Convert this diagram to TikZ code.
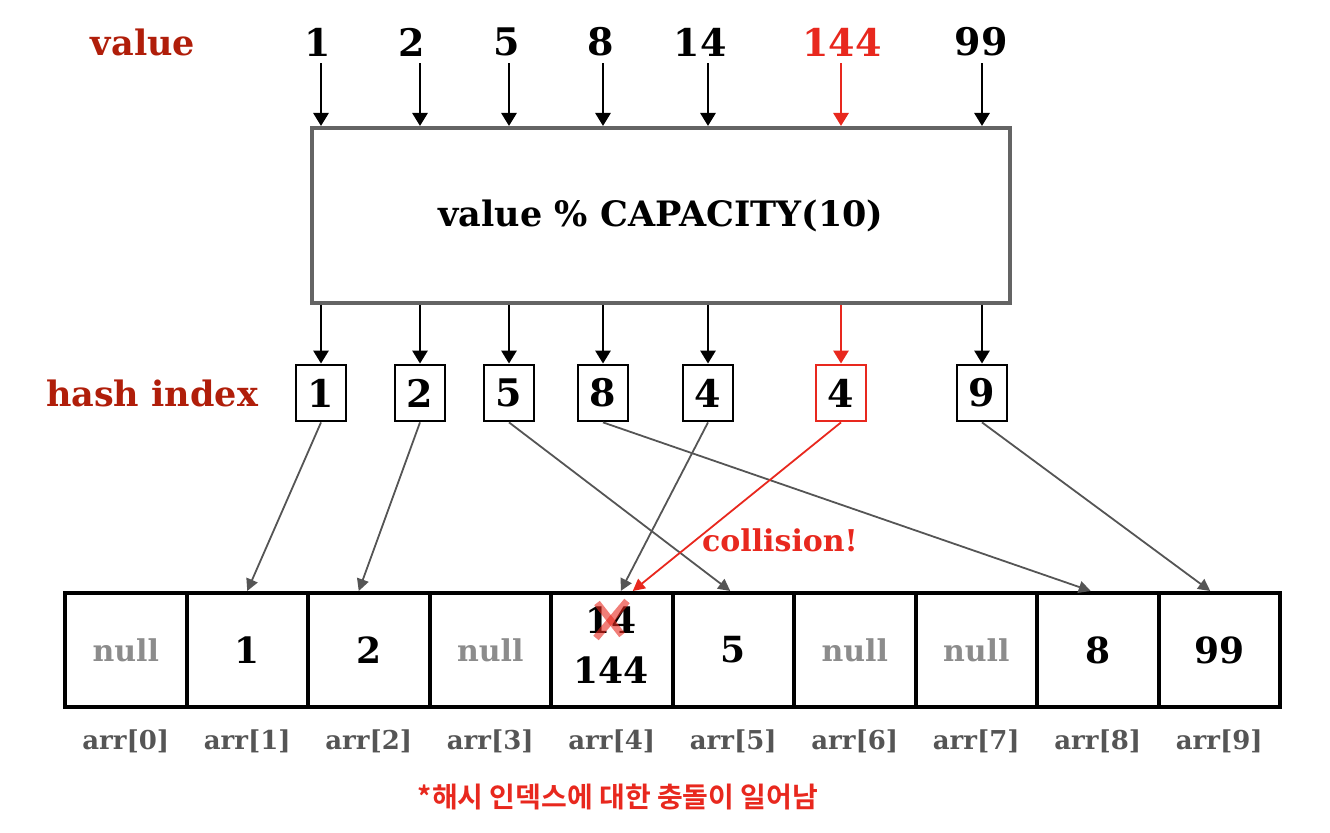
\documentclass[tikz,border=0pt]{standalone}
\usepackage{fontspec}
\setmainfont{DejaVu Serif}
\newfontfamily\krfont{Noto Sans CJK KR}[BoldFont=Noto Sans CJK KR Bold]
\usetikzlibrary{arrows.meta}
\definecolor{labelred}{RGB}{176,30,10}
\definecolor{hitred}{RGB}{232,40,30}
\definecolor{boxgray}{RGB}{100,100,100}
\definecolor{linkgray}{RGB}{85,85,85}
\definecolor{nullgray}{RGB}{140,140,140}
\tikzset{
  big/.style={font=\bfseries\fontsize{19}{22}\selectfont},
  sidelab/.style={font=\bfseries\fontsize{17.5}{21}\selectfont,text=labelred},
  hashbox/.style={draw,line width=1.4pt,minimum width=25pt,minimum height=28pt,inner sep=0pt,big},
  cell/.style={draw,line width=2pt,minimum width=60.75pt,minimum height=57pt,inner sep=0pt},
  numtxt/.style={font=\bfseries\fontsize{18}{22}\selectfont},
  nulltxt/.style={font=\bfseries\fontsize{15}{18}\selectfont,text=nullgray},
  arrlab/.style={font=\bfseries\fontsize{13}{16}\selectfont,text=linkgray},
  down/.style={line width=1.4pt,-{Triangle[length=6.5pt,width=7.5pt]}},
  link/.style={line width=0.9pt,linkgray,-{Triangle[length=6pt,width=6pt]}}
}
\begin{document}
\begin{tikzpicture}[x=0.5pt,y=-0.5pt]
  \useasboundingbox (0,0) rectangle (1330,833);
  \node[sidelab] (vallab) at (143,42) {value};
  \node[sidelab] (hashlab) at (152,393) {hash index};
  \node[draw=boxgray,line width=2pt,minimum width=349pt,minimum height=87.5pt,
    font=\bfseries\fontsize{17.5}{21}\selectfont] (fn) at (661,215.5) {value \% CAPACITY(10)};
  \foreach \x/\hx/\v/\h/\c [count=\i] in {318/321/1/1/black,412/420/2/2/black,507/509/5/5/black,
      601/603/8/8/black,700/708/14/4/black,842/841/144/4/hitred,981/982/99/9/black}{
    \node[big,text=\c] (v\i) at (\x,42) {\v};
    \node[hashbox,draw=\c] (h\i) at (\hx,393) {\h};
    \draw[down,\c] (h\i |- v\i.south) -- (h\i |- fn.north);
    \draw[down,\c] (h\i |- fn.south) -- (h\i.north);}
  % array
  \foreach \t/\s [count=\i from 0] in {null/nulltxt,1/numtxt,2/numtxt,null/nulltxt,/numtxt,
      5/numtxt,null/nulltxt,null/nulltxt,8/numtxt,99/numtxt}{
    \node[cell,\s] (c\i) at (125.75+121.5*\i,650) {\t};
    \node[arrlab] (a\i) at ([yshift=-16pt]c\i.south) {arr[\i]};}
  \node[numtxt] (old) at (611,620) {14};
  \node[numtxt] (new) at (611,670) {144};
  \draw[hitred,opacity=0.6,line width=3.5pt] ([shift={(-7pt,8.5pt)}]old.center) -- ([shift={(5.5pt,-7.5pt)}]old.center);
  \draw[hitred,opacity=0.6,line width=3.5pt] ([shift={(8pt,9.5pt)}]old.center) -- ([shift={(-7.5pt,-9pt)}]old.center);
  % links
  \draw[link] (h1.south) -- (c1.north);
  \draw[link] (h2.south) -- ([xshift=-5pt]c2.north);
  \draw[link] (h3.south) -- ([xshift=-1.5pt]c5.north);
  \draw[link] (h4.south) -- ([xshift=-3.5pt]c8.north);
  \draw[link] (h5.south) -- ([xshift=4.5pt]c4.north);
  \draw[link] (h7.south) -- ([xshift=-4.5pt]c9.north);
  \draw[link,hitred] (h6.south) -- ([xshift=10.5pt]c4.north);
  \node[font=\bfseries\fontsize{15}{18}\selectfont,text=hitred] (coll) at (780,540) {collision!};
  \node[font=\krfont\bfseries\fontsize{14}{17}\selectfont,text=hitred] (note) at (618,797) {*해시 인덱스에 대한 충돌이 일어남};
\end{tikzpicture}
\end{document}
